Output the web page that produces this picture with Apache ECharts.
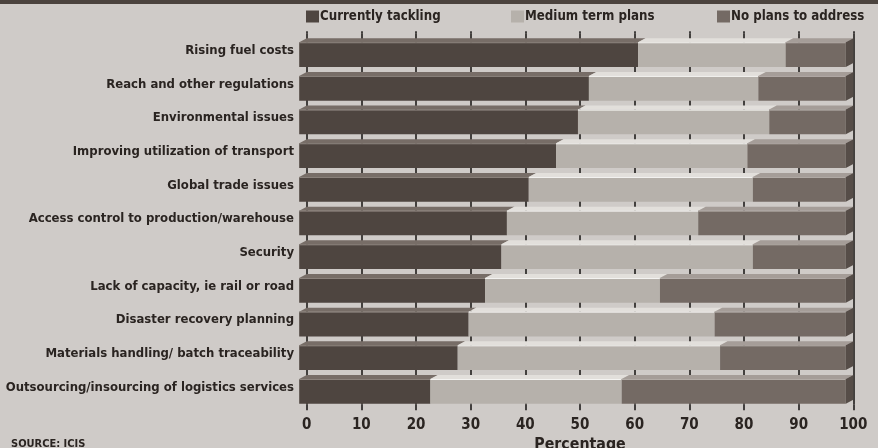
<!DOCTYPE html>
<html>
<head>
<meta charset="utf-8">
<script src="https://cdn.jsdelivr.net/npm/echarts@6/dist/echarts.min.js"></script>
<style>
  html, body { margin: 0; padding: 0; background: #cfcbc8; }
  #chart { width: 878px; height: 448px; }
</style>
</head>
<body>
<div id="chart"></div>
<script>
const categories = [
  'Rising fuel costs',
  'Reach and other regulations',
  'Environmental issues',
  'Improving utilization of transport',
  'Global trade issues',
  'Access control to production/warehouse',
  'Security',
  'Lack of capacity, ie rail or road',
  'Disaster recovery planning',
  'Materials handling/ batch traceability',
  'Outsourcing/insourcing of logistics services'
];
const currentlyTackling = [62, 53, 51, 47, 42, 38, 37, 34, 31, 29, 24];
const mediumTermPlans   = [27, 31, 35, 35, 41, 35, 46, 32, 45, 48, 35];
const noPlansToAddress  = [11, 16, 14, 18, 17, 27, 17, 34, 24, 23, 41];
const seriesNames = ['Currently tackling', 'Medium term plans', 'No plans to address'];
const axisTicks = [0, 10, 20, 30, 40, 50, 60, 70, 80, 90, 100];

const COND = "'Liberation Sans Narrow', 'DejaVu Sans Condensed', sans-serif";
const TEXT = '#2a2421';

const styles = [
  { front: '#4e4540', top: '#776d67', hl: '#8c837d' },
  { front: '#b6b1ab', top: '#e2dfdb', hl: '#f4f3f1' },
  { front: '#746a64', top: '#a59d98', hl: '#b3aca7' }
];
const SIDE = '#564d48';

function buildData(k) {
  const arrs = [currentlyTackling, mediumTermPlans, noPlansToAddress];
  return categories.map((c, i) => {
    let start = 0;
    for (let j = 0; j < k; j++) start += arrs[j][i];
    return [i, start, start + arrs[k][i]];
  });
}

function makeRender(k) {
  const st = styles[k];
  return function (params, api) {
    const idx = api.value(0), s = api.value(1), e = api.value(2);
    const a = api.coord([s, idx]);
    const b = api.coord([e, idx]);
    const band = api.size([0, 1])[1];
    const h = band * 0.734;
    const dx = 7.5, dy = 4;
    const top = a[1] - h / 2;
    const ft = top + dy;
    const children = [
      { type: 'rect', shape: { x: a[0] - dx, y: ft, width: b[0] - a[0], height: h },
        style: { fill: st.front } },
      { type: 'polygon', shape: { points: [[a[0] - dx, ft], [a[0], top], [b[0], top], [b[0] - dx, ft]] },
        style: { fill: st.top } },
      { type: 'line', shape: { x1: a[0] - dx, y1: ft + 0.5, x2: b[0] - dx, y2: ft + 0.5 },
        style: { stroke: st.hl, lineWidth: 1 } }
    ];
    if (k === 2) {
      children.push({ type: 'polygon',
        shape: { points: [[b[0] - dx, ft], [b[0], top], [b[0], top + h], [b[0] - dx, ft + h]] },
        style: { fill: SIDE } });
    }
    return { type: 'group', children };
  };
}

const chart = echarts.init(document.getElementById('chart'), null, { renderer: 'canvas' });

const legendCommon = (name, left) => ({
  data: [name], left: left, top: 10, padding: 0, itemWidth: 13, itemHeight: 12, icon: 'rect',
  selectedMode: false,
  textStyle: { fontFamily: COND, fontWeight: 'bold', fontSize: 13.2, color: TEXT, padding: [0, 0, 0, -4] }
});

chart.setOption({
  animation: false,
  backgroundColor: '#cfcbc8',
  title: {
    text: 'SOURCE: ICIS', left: 11, top: 439, padding: 0,
    textStyle: { fontFamily: COND, fontWeight: 'bold', fontSize: 11, color: TEXT }
  },
  graphic: [
    { type: 'rect', shape: { x: 0, y: 0, width: 878, height: 4 }, style: { fill: '#4b433e' } }
  ],
  legend: [
    legendCommon(seriesNames[0], 306),
    legendCommon(seriesNames[1], 511),
    legendCommon(seriesNames[2], 717)
  ],
  grid: { left: 306.7, right: 24.7, top: 33.8, bottom: 43.8, containLabel: false, outerBoundsMode: 'none' },
  xAxis: [
    {
      type: 'value', min: 0, max: 100, interval: 10, position: 'bottom',
      axisLine: { show: false },
      axisTick: { show: true, length: 6, lineStyle: { color: '#151210', width: 1.5 } },
      splitLine: { show: true, lineStyle: { color: '#151210', width: 1.5 } },
      axisLabel: { margin: 13, fontFamily: COND, fontWeight: 'bold', fontSize: 15, color: TEXT,
        formatter: v => String(axisTicks[axisTicks.indexOf(v)]) },
      name: 'Percentage', nameLocation: 'middle', nameGap: 26,
      nameTextStyle: { fontFamily: COND, fontWeight: 'bold', fontSize: 15.8, color: TEXT }
    },
    {
      type: 'value', min: 0, max: 100, interval: 10, position: 'top',
      axisLine: { show: false },
      axisTick: { show: true, length: 2.5, lineStyle: { color: '#151210', width: 1.5 } },
      splitLine: { show: false },
      axisLabel: { show: false }
    }
  ],
  yAxis: {
    type: 'category', data: categories, inverse: true,
    axisLine: { show: false }, axisTick: { show: false }, splitLine: { show: false },
    axisLabel: { margin: 12.7, fontFamily: COND, fontWeight: 'bold', fontSize: 13, color: TEXT,
      padding: [4, 0, 0, 0] }
  },
  series: [0, 1, 2].map(k => ({
    type: 'custom', name: seriesNames[k], xAxisIndex: 0, yAxisIndex: 0,
    renderItem: makeRender(k), clip: false,
    itemStyle: { color: styles[k].front },
    encode: { x: [1, 2], y: 0 },
    data: buildData(k),
    z: 3 + k
  }))
});
</script>
</body>
</html>
